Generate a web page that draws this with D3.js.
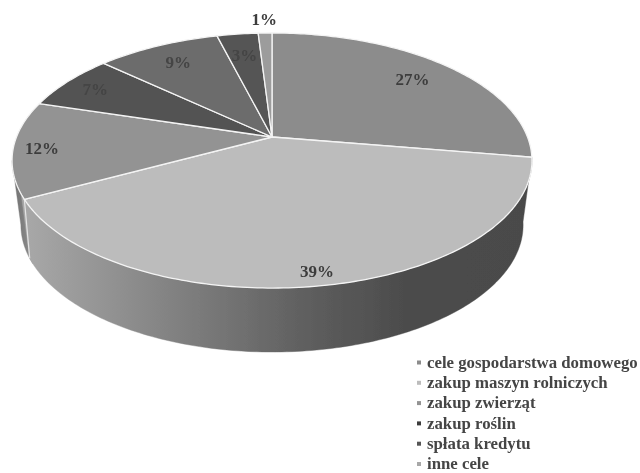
<!DOCTYPE html>
<html><head><meta charset="utf-8">
<script src="https://cdn.jsdelivr.net/npm/d3@7"></script>
<style>html,body{margin:0;padding:0;background:#fff}svg{display:block}</style></head>
<body><script>
const categories=["cele gospodarstwa domowego","zakup maszyn rolniczych","zakup zwierząt","zakup roślin","spłata kredytu","inne cele"];
const pieLabels=["27%","39%","12%","7%","9%","3%","1%"];
const values=[27,39,12,7,9,3,1];
const topColors=["#8c8c8c","#bcbcbc","#939393","#525252","#6c6c6c","#555555","#9c9c9c"];
const labelRadii=[0.79,0.92,0.89,0.856,0.796,0.77,1.164];
const legendColors=["#8c8c8c","#bcbcbc","#939393","#3c3c3c","#555555","#a8a8a8"];

const W=640,H=473;
const svg=d3.select("body").append("svg").attr("width",W).attr("height",H);
const defs=svg.append("defs");
defs.append("filter").attr("id","soft").append("feGaussianBlur").attr("stdDeviation",0.45);
defs.append("filter").attr("id","softText").append("feGaussianBlur").attr("stdDeviation",0.3);
function grad(id,x1,x2,stops){
  const g=defs.append("linearGradient").attr("id",id).attr("gradientUnits","userSpaceOnUse")
    .attr("x1",x1).attr("x2",x2).attr("y1",0).attr("y2",0);
  stops.forEach(([o,c])=>g.append("stop").attr("offset",o).attr("stop-color",c));
}
grad("wallA",25,530,[[0,"#a8a8a8"],[0.2,"#8e8e8e"],[0.35,"#7a7a7a"],[0.58,"#5c5c5c"],[0.75,"#4c4c4c"],[1,"#4a4a4a"]]);
grad("wallB",12,32,[[0,"#6e6e6e"],[1,"#8e8e8e"]]);

// perspective projection of the pie disc
const cx=272,apexY=137,a=255.5,b=0.1844,c=123.2,ellipseY=160.5,seamShift=0.04;
function rimTop(theta,r=1){
  const u=r*Math.sin(theta),v=r*Math.cos(theta),d=1+b*v;
  return [cx+a*u/d,apexY-c*v/d];
}
function rimBottom(theta){
  const [x,y]=rimTop(theta);
  return [cx+(x-cx)*0.966,ellipseY+64.5+(y-ellipseY)*0.996];
}
const line=d3.line();
const samples=(t0,t1)=>{const n=Math.max(2,Math.ceil(Math.abs(t1-t0)*60));return d3.range(n+1).map(i=>t0+(t1-t0)*i/n);};

const arcs=d3.pie().sort(null).startAngle(0).endAngle(2*Math.PI)(values);
const leftExtreme=Math.PI*2-Math.acos(-b);

const g=svg.append("g").attr("filter","url(#soft)");
// walls
function wall(t0,t1,fill){
  const s=samples(t0,t1);
  g.append("path").attr("d",line(s.map(t=>rimTop(t)).concat(s.slice().reverse().map(t=>rimBottom(t))))+"Z")
    .attr("fill",fill).attr("stroke",fill).attr("stroke-width",0.4);
}
wall(arcs[2].startAngle,leftExtreme,"url(#wallB)");
wall(arcs[1].startAngle,arcs[1].endAngle+seamShift,"url(#wallA)");
const seam=arcs[1].endAngle;
g.append("path").attr("d",line([rimTop(seam),rimBottom(seam+seamShift)])).attr("stroke","#e4e4e4").attr("stroke-width",1.2).attr("fill","none");
// top slices
g.selectAll("path.slice").data(arcs).join("path").attr("class","slice")
  .attr("d",d=>line([[cx,apexY]].concat(samples(d.startAngle,d.endAngle).map(t=>rimTop(t))))+"Z")
  .attr("fill",(d,i)=>topColors[i]).attr("stroke","#f4f4f4").attr("stroke-width",1.3).attr("stroke-linejoin","round");

// pie labels
svg.selectAll("text.pl").data(arcs).join("text").attr("class","pl")
  .attr("x",(d,i)=>rimTop((d.startAngle+d.endAngle)/2,labelRadii[i])[0])
  .attr("y",(d,i)=>rimTop((d.startAngle+d.endAngle)/2,labelRadii[i])[1])
  .attr("dy","0.35em").attr("text-anchor","middle")
  .attr("font-family","'Liberation Serif',serif").attr("font-weight","bold").attr("font-size",17)
  .attr("fill",(d,i)=>(i===3||i===5||i===4)?"#444444":"#3c3c3c")
  .attr("filter","url(#softText)")
  .text((d,i)=>pieLabels[i]);

// legend
const ly=d3.scalePoint().domain(categories).range([362.5,464]);
const lg=svg.selectAll("g.lg").data(categories).join("g").attr("class","lg");
lg.append("rect").attr("x",417).attr("y",d=>ly(d)-2).attr("width",4).attr("height",4).attr("fill",(d,i)=>legendColors[i]);
lg.append("text").attr("x",427).attr("y",d=>ly(d)).attr("dy","0.32em")
  .attr("font-family","'Liberation Serif',serif").attr("font-weight","bold").attr("font-size",16.8)
  .attr("fill","#444444").attr("filter","url(#softText)").text(d=>d);
</script></body></html>
